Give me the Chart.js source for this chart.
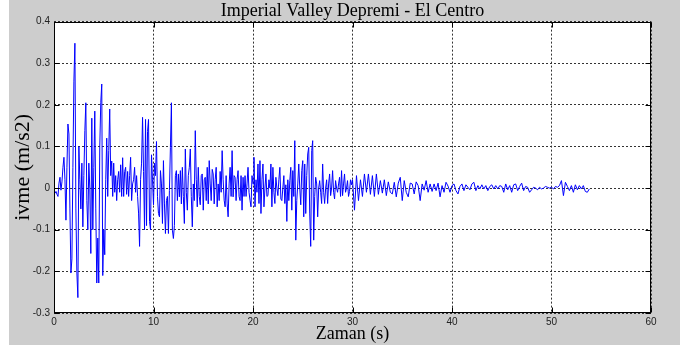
<!DOCTYPE html>
<html lang="tr">
<head>
<meta charset="UTF-8">
<title>Imperial Valley Depremi - El Centro</title>
<script src="https://cdn.jsdelivr.net/npm/chart.js"></script>
<style>
  html, body { margin: 0; padding: 0; background: #fff; }
  canvas { display: block; }
</style>
</head>
<body>
<canvas id="accChart" width="680" height="351"></canvas>
<script>
  // ivme kaydi (okunan degerler), 0-30 s arasi 0.1 s aralikla
  const dtStrong = 0.1;
  const acc0to10 = [
    -0.01, -0.012, -0.008, -0.015, -0.02, 0.012, 0.026, -0.005, 0.015, 0.05,
    0.074, 0.02, -0.077, 0.05, 0.154, 0.13, -0.05, -0.204, -0.17, 0.05,
    0.257, 0.348, -0.05, -0.204, -0.263, 0.1, 0.02, -0.05, 0.06, -0.093,
    0.03, 0.138, 0.205, -0.03, -0.1, 0.06, 0.0, -0.157, 0.168, -0.1,
    0.05, 0.185, -0.05, -0.228, -0.12, -0.228, 0.1, 0.205, 0.25, -0.21,
    -0.1, -0.16, 0.02, 0.12, -0.02, 0.09, 0.19, 0.03, 0.065, -0.02,
    0.06, -0.01, 0.03, -0.03, 0.02, 0.04, -0.01, 0.056, -0.02, 0.073,
    -0.02, 0.04, 0.05, -0.015, 0.04, -0.02, 0.03, 0.074, -0.03, 0.01,
    0.02, 0.05, -0.01, 0.03, -0.02, -0.06, -0.14, 0.02, 0.06, 0.17,
    0.04, -0.1, 0.165, -0.09, 0.136, 0.165, -0.08, -0.1, 0.08, 0.02
  ];
  const acc10to20 = [
    -0.04, 0.06, 0.03, 0.112, -0.02, -0.061, -0.069, 0.042, 0.01, -0.085,
    0.066, -0.038, -0.109, -0.03, -0.02, -0.109, -0.006, 0.098, 0.205, -0.101,
    -0.121, -0.09, 0.03, 0.042, -0.03, 0.034, -0.021, 0.042, -0.038, 0.05,
    -0.02, -0.085, 0.094, -0.01, -0.053, 0.03, 0.05, 0.094, -0.02, -0.093,
    0.01, -0.03, 0.138, 0.02, -0.045, 0.05, -0.02, -0.04, 0.03, 0.034,
    -0.053, 0.02, 0.026, -0.03, 0.05, -0.038, 0.066, 0.01, -0.03, 0.045,
    0.034, -0.038, 0.02, 0.05, -0.045, 0.01, -0.03, 0.04, -0.01, 0.09,
    0.02, -0.029, -0.045, 0.03, -0.038, -0.069, 0.01, 0.05, -0.02, 0.09,
    -0.021, 0.03, 0.026, -0.03, 0.02, 0.042, -0.02, -0.03, 0.03, -0.053,
    0.026, -0.02, 0.03, -0.02, 0.01, 0.05, -0.01, -0.029, -0.045, 0.03
  ];
  const acc20to30 = [
    0.01, 0.074, -0.045, 0.02, -0.01, 0.058, -0.037, 0.066, -0.061, 0.02,
    0.058, -0.045, 0.0, 0.034, -0.02, -0.018, 0.02, 0.0, 0.058, -0.045,
    0.05, -0.01, -0.037, 0.026, 0.0, -0.018, 0.02, 0.05, -0.026, -0.03,
    0.0, 0.03, -0.037, 0.008, -0.08, 0.02, -0.03, 0.018, 0.05, -0.053,
    0.042, -0.02, 0.114, -0.125, -0.03, 0.01, 0.058, 0.0, -0.04, 0.042,
    0.066, -0.069, 0.058, -0.061, 0.03, 0.082, 0.098, -0.06, -0.14, 0.09,
    0.114, -0.125, -0.02, 0.026, 0.01, -0.069, 0.0, 0.018, -0.01, -0.037,
    0.058, -0.01, -0.037, 0.0, 0.02, -0.037, 0.01, 0.034, -0.018, 0.0,
    0.042, -0.01, -0.026, 0.018, 0.0, -0.01, 0.01, 0.026, -0.02, 0.042,
    -0.018, 0.01, 0.034, -0.01, 0.0, 0.018, -0.02, -0.008, 0.02, 0.008
  ];
  // 30 s sonrasi, 0.2 s aralikla
  const tailStart = 30;
  const dtTail = 0.2;
  const accTail = [
    0.02, -0.053, 0.03, -0.03, 0.02, -0.02, 0.034, -0.01, 0.034, -0.015,
    0.03, -0.02, 0.034, -0.015, 0.018, -0.012, 0.02, -0.018, 0.015, -0.01,
    -0.014, 0.014, -0.021, 0.012, 0.026, -0.03, 0.018, -0.01, -0.021, 0.012,
    0.01, -0.014, 0.015, 0.006, -0.03, 0.01, -0.005, 0.018, -0.01, 0.01,
    -0.008, 0.01, -0.006, 0.012, -0.021, 0.006, -0.01, 0.014, 0.005, -0.01,
    0.006, 0.01, -0.006, -0.014, 0.004, 0.01, -0.006, 0.008, 0.002, -0.004,
    0.01, 0.014, -0.006, 0.006, -0.002, 0.008, -0.002, 0.006, -0.006, 0.004,
    0.008, -0.002, 0.006, -0.002, 0.006, 0.004, -0.01, 0.01, -0.004, 0.006,
    -0.01, 0.008, 0.01, -0.006, 0.004, 0.012, -0.006, 0.004, 0.002, -0.01,
    -0.004, 0.002, 0.0, -0.004, 0.002, -0.002, 0.0, 0.004, 0.002, 0.0,
    0.002, -0.002, 0.004, 0.002, 0.006, 0.018, -0.018, 0.014, 0.004, -0.006,
    0.006, -0.01, 0.008, -0.004, 0.006, -0.002, 0.006, -0.008, -0.01, -0.002
  ];

  const xTicks = [0, 10, 20, 30, 40, 50, 60];
  const yTicks = [-0.3, -0.2, -0.1, 0, 0.1, 0.2, 0.3, 0.4];
  const yTickLabels = ['-0.3', '-0.2', '-0.1', '0', '0.1', '0.2', '0.3', '0.4'];

  const strong = acc0to10.concat(acc10to20, acc20to30);
  const points = strong.map((a, i) => ({ x: +(i * dtStrong).toFixed(2), y: a }))
    .concat(accTail.map((a, i) => ({ x: +(tailStart + i * dtTail).toFixed(2), y: a })));

  const serif = "'Liberation Serif', 'Times New Roman', serif";
  const sans = "'Liberation Sans', Arial, sans-serif";

  // gri figur zemini, beyaz eksen alani, kutu ve iceri bakan tick'ler
  const frame = {
    id: 'frame',
    beforeDraw(chart) {
      const { ctx, chartArea: a } = chart;
      ctx.save();
      ctx.fillStyle = '#fff';
      ctx.fillRect(0, 0, chart.width, chart.height);
      ctx.fillStyle = '#cdcdcd';
      ctx.fillRect(9, 0, chart.width - 9, 345);
      ctx.fillStyle = '#fff';
      ctx.fillRect(a.left, a.top, a.right - a.left, a.bottom - a.top);
      ctx.restore();
    },
    afterDraw(chart) {
      const { ctx, chartArea: a, scales: { x, y } } = chart;
      const L = Math.round(a.left) + 0.5, R = Math.round(a.right) - 0.5;
      const T = Math.round(a.top) + 0.5, B = Math.round(a.bottom) - 0.5;
      ctx.save();
      ctx.strokeStyle = '#000';
      ctx.lineWidth = 1;
      ctx.strokeRect(L, T, R - L, B - T);
      ctx.beginPath();
      xTicks.forEach(v => {
        const px = Math.round(x.getPixelForValue(v)) + 0.5;
        ctx.moveTo(px, B); ctx.lineTo(px, B - 5);
        ctx.moveTo(px, T); ctx.lineTo(px, T + 5);
      });
      yTicks.forEach(v => {
        const py = Math.round(y.getPixelForValue(v)) + 0.5;
        ctx.moveTo(L, py); ctx.lineTo(L + 5, py);
        ctx.moveTo(R, py); ctx.lineTo(R - 5, py);
      });
      ctx.stroke();
      ctx.restore();
    }
  };

  new Chart(document.getElementById('accChart'), {
    type: 'line',
    data: {
      datasets: [{
        data: points,
        borderColor: '#0000ff',
        borderWidth: 1,
        pointRadius: 0,
        tension: 0,
        fill: false
      }]
    },
    options: {
      responsive: false,
      animation: false,
      devicePixelRatio: 1,
      layout: { padding: { left: 9, right: 29, top: 0, bottom: 6 } },
      plugins: {
        legend: { display: false },
        tooltip: { enabled: false },
        title: {
          display: true,
          text: 'Imperial Valley Depremi - El Centro',
          fullSize: false,
          color: '#000',
          font: { family: serif, size: 18, weight: 'normal', lineHeight: 1.2 },
          padding: 0
        }
      },
      scales: {
        x: {
          type: 'linear',
          min: 0,
          max: 60,
          afterBuildTicks: s => { s.ticks = xTicks.map(v => ({ value: v })); },
          afterFit: s => { s.height = 32; },
          ticks: { color: '#222', font: { family: sans, size: 10 }, padding: 3, maxRotation: 0, autoSkip: false },
          grid: { color: '#333', lineWidth: 1, drawTicks: false },
          border: { display: false, dash: [2, 2] },
          title: { display: true, text: 'Zaman (s)', color: '#000', font: { family: serif, size: 18, weight: 'normal' }, padding: 0 }
        },
        y: {
          min: -0.3,
          max: 0.4,
          afterBuildTicks: s => { s.ticks = yTicks.map(v => ({ value: v })); },
          afterFit: s => { s.width = 45; },
          ticks: {
            color: '#222',
            font: { family: sans, size: 10 },
            padding: 4,
            autoSkip: false,
            callback: (v, i) => yTickLabels[i]
          },
          grid: { color: '#333', lineWidth: 1, drawTicks: false },
          border: { display: false, dash: [2, 2] },
          title: { display: true, text: 'ivme (m/s2)', color: '#000', font: { family: serif, size: 22, weight: 'normal', lineHeight: 1.1 }, padding: { top: 2, bottom: 0 } }
        }
      }
    },
    plugins: [frame]
  });
</script>
</body>
</html>
